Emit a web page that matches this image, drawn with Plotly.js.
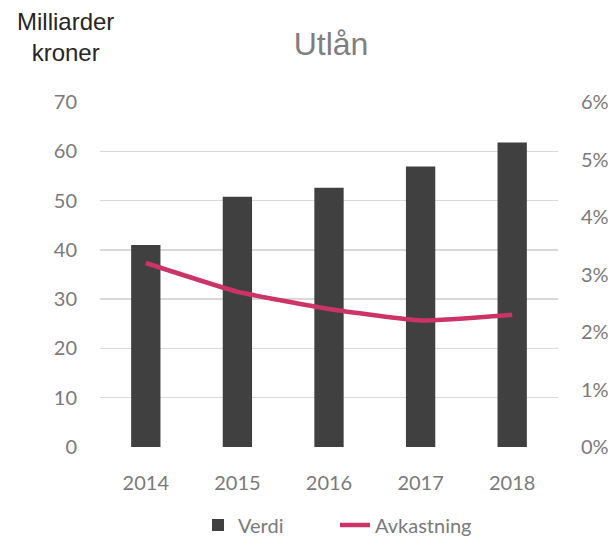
<!DOCTYPE html>
<html>
<head>
<meta charset="utf-8">
<script src="https://cdn.plot.ly/plotly-3.0.1.min.js"></script>
<style>
  html, body { margin: 0; padding: 0; background: #ffffff; }
  #chart { width: 613px; height: 540px; }
</style>
</head>
<body>
<div id="chart"></div>
<script>
// data
const years = ['2014', '2015', '2016', '2017', '2018'];
const verdi = [41.0, 50.8, 52.6, 56.9, 61.8];          // milliarder kroner
const avkastning = [0.032, 0.027, 0.024, 0.022, 0.023]; // share

const leftTicks = [0, 10, 20, 30, 40, 50, 60, 70];
const rightTicks = [0, 0.01, 0.02, 0.03, 0.04, 0.05, 0.06];

const tickFont = { family: 'Lato, "Open Sans", sans-serif', size: 20, color: '#7a7a7a' };

var barTrace = {
    name: 'Verdi',
    type: 'bar',
    x: years,
    y: verdi,
    marker: { color: '#404040' },
    yaxis: 'y',
    hoverinfo: 'none'
};

var lineTrace = {
    name: 'Avkastning',
    type: 'scatter',
    mode: 'lines',
    x: years,
    y: avkastning,
    line: { color: '#CC3366', width: 4.5, shape: 'spline', smoothing: 0.4 },
    yaxis: 'y2',
    hoverinfo: 'none'
};

var layout = {
    width: 613,
    height: 540,
    margin: { l: 100, r: 55, t: 102, b: 93, pad: 0, autoexpand: false },
    paper_bgcolor: '#ffffff',
    plot_bgcolor: '#ffffff',
    bargap: 0.68,
    showlegend: true,
    legend: {
        orientation: 'h',
        x: (198 - 100) / 458, xanchor: 'left',
        y: (447 - 525) / 345, yanchor: 'middle',
        font: tickFont,
        entrywidth: 92,
        entrywidthmode: 'pixels',
        traceorder: 'normal'
    },
    title: {
        text: 'Utlån',
        font: { family: '"Liberation Sans", Arial, sans-serif', size: 32, color: '#7f7f7f' },
        x: 331 / 613, xanchor: 'center',
        y: 1 - 44 / 540, yanchor: 'middle'
    },
    xaxis: {
        type: 'category',
        tickfont: tickFont,
        showgrid: false,
        showline: false,
        zeroline: false,
        ticks: '',
        ticklabelstandoff: 22
    },
    yaxis: {
        range: [0, 70],
        tickvals: leftTicks,
        tickfont: tickFont,
        showgrid: true,
        gridcolor: '#d9d9d9',
        gridwidth: 1.3,
        zeroline: false,
        showline: false,
        ticks: '',
        ticklabelstandoff: 22
    },
    yaxis2: {
        overlaying: 'y',
        side: 'right',
        range: [0, 0.06],
        tickvals: rightTicks,
        tickformat: '.0%',
        tickfont: tickFont,
        showgrid: false,
        zeroline: false,
        showline: false,
        ticks: '',
        ticklabelstandoff: 22
    },
    annotations: [{
        text: 'Milliarder<br>kroner',
        xref: 'paper', yref: 'paper',
        x: (65 - 100) / 458, xanchor: 'center',
        y: (447 - 6) / 345, yanchor: 'top',
        showarrow: false,
        align: 'center',
        font: { family: '"Liberation Sans", Arial, sans-serif', size: 24, color: '#262626' }
    }]
};

Plotly.newPlot('chart', [barTrace, lineTrace], layout, { displayModeBar: false, staticPlot: true });
</script>
</body>
</html>
